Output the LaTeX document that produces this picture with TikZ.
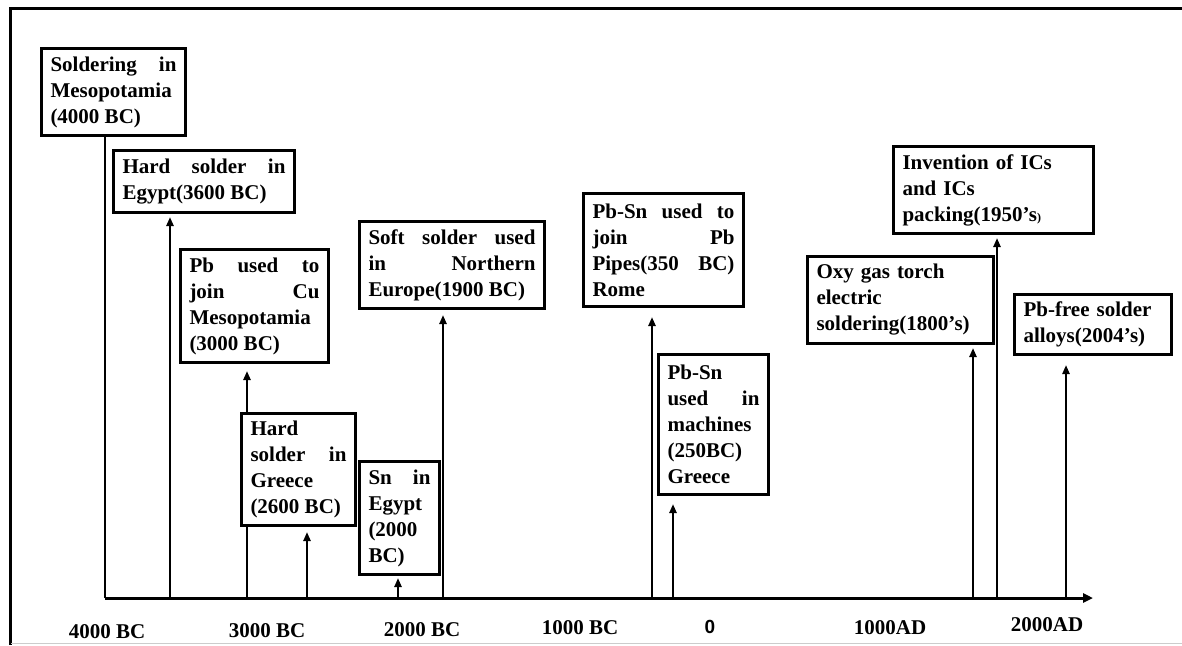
\documentclass[tikz,border=0pt]{standalone}
\usepackage{fontspec}
\setmainfont{Liberation Serif}
\newfontfamily\zerofont{Liberation Sans}
\usepackage{tikz}
\usetikzlibrary{arrows.meta}

\hbadness=10000
\tolerance=10000
\hyphenpenalty=10000
\exhyphenpenalty=10000
\newcommand{\evtfont}{\fontsize{21}{26}\selectfont\bfseries}

\begin{document}
\begin{tikzpicture}[x=1pt, y=-1pt,
    event/.style={draw, line width=3pt, fill=white, anchor=north west,
      inner xsep=9pt, inner ysep=4pt, align=justify, font=\evtfont},
    eventl/.style={event, align=left},
    stem/.style={line width=2.6pt, -{Triangle[length=9pt,width=7pt]}},
    year/.style={anchor=base, font=\evtfont}]
      \useasboundingbox (0,0) rectangle (1182,645);

      % Frame
      \draw[line width=3pt] (10,645) -- (10,8) -- (1182,8);
      \draw[gray!40, line width=1pt] (11,643) -- (1182,643);

      % Events before Christ
      \node[event, text width=126pt, minimum height=87pt] (b1) at (40,47)
        {Soldering in\linebreak Mesopotamia\linebreak (4000 BC)};
      \node[event, text width=163pt, minimum height=62pt] (b2) at (112,149)
        {Hard solder in\linebreak Egypt(3600 BC)};
      \node[event, text width=130pt, minimum height=113pt] (b3) at (179,248)
        {Pb used to\linebreak join Cu\linebreak Mesopotamia\linebreak (3000 BC)};
      \node[event, text width=96pt, minimum height=112pt] (b4) at (240,412)
        {Hard\linebreak solder in\linebreak Greece\linebreak (2600 BC)};
      \node[event, text width=62pt, minimum height=113pt] (b5) at (358,460)
        {Sn in\linebreak Egypt\linebreak (2000\linebreak BC)};
      \node[event, text width=167pt, minimum height=87pt] (b6) at (358,220)
        {Soft solder used\linebreak in Northern\linebreak Europe(1900 BC)};
      \node[event, text width=142pt, minimum height=113pt] (b7) at (582,192)
        {Pb-Sn used to\linebreak join Pb\linebreak Pipes(350 BC)\linebreak Rome};
      \node[event, text width=92pt, minimum height=140pt] (b8) at (657,353)
        {Pb-Sn\linebreak used in\linebreak machines\linebreak (250BC)\linebreak Greece};

      % Events after Christ
      \node[eventl, text width=168pt, minimum height=87pt] (b9) at (806,255)
        {Oxy gas torch\\ electric\\ soldering(1800’s)};
      \node[eventl, text width=182pt, minimum height=87pt] (b10) at (892,145)
        {Invention of ICs\\ and ICs\\ packing(1950’s{\fontsize{12}{12}\selectfont)}};
      \node[eventl, text width=139pt, minimum height=60pt] (b11) at (1013,293)
        {Pb-free solder\\ alloys(2004’s)};

      % Time axis
      \coordinate (o) at (105,598);
      \coordinate (e) at (1093,598);
      \draw[line width=3pt, -{Triangle[length=10pt,width=9pt]}] (o) -- (e);

      % Stems from the axis
      \coordinate (t2) at (170,598);
      \coordinate (t3) at (247,598);
      \coordinate (t4) at (307,598);
      \coordinate (t5) at (398,598);
      \coordinate (t6) at (443,598);
      \coordinate (t7) at (652,598);
      \coordinate (t8) at (673,598);
      \coordinate (t9) at (973,598);
      \coordinate (t10) at (997,598);
      \coordinate (t11) at (1066,598);
      \draw[line width=2.6pt] (o) -- (o |- b1.south);
      \draw[stem, shorten >=3pt] (t2) -- (t2 |- b2.south);
      \draw[line width=2.6pt] (t3) -- (t3 |- b4.south);
      \draw[stem, shorten >=7pt] (t3 |- b4.north) -- (t3 |- b3.south);
      \draw[stem, shorten >=5pt] (t4) -- (t4 |- b4.south);
      \draw[stem, shorten >=2pt] (t5) -- (t5 |- b5.south);
      \draw[stem, shorten >=5pt] (t6) -- (t6 |- b6.south);
      \draw[stem, shorten >=9pt] (t7) -- (t7 |- b7.south);
      \draw[stem, shorten >=8pt] (t8) -- (t8 |- b8.south);
      \draw[stem, shorten >=3pt] (t9) -- (t9 |- b9.south);
      \draw[stem, shorten >=3pt] (t10) -- (t10 |- b10.south);
      \draw[stem, shorten >=9pt] (t11) -- (t11 |- b11.south);

      % Axis labels
      \node[year] (y1) at (107,638) {4000 BC};
      \node[year] (y2) at (267,637) {3000 BC};
      \node[year] (y3) at (422,636) {2000 BC};
      \node[year] (y4) at (580,634) {1000 BC};
      \node[year, font=\zerofont\bfseries\fontsize{19}{19}\selectfont] (y5) at (710,633) {0};
      \node[year] (y6) at (890,634) {1000AD};
      \node[year] (y7) at (1047,631) {2000AD};
\end{tikzpicture}
\end{document}
